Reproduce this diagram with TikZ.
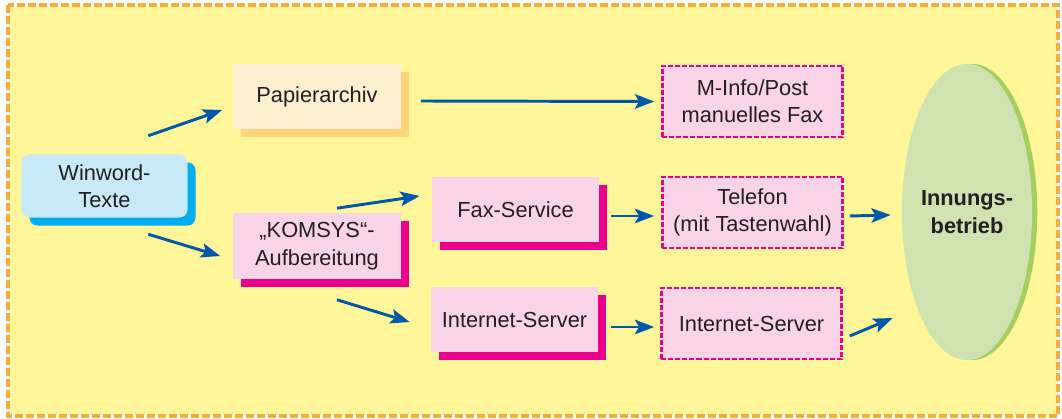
\documentclass[tikz,border=0pt]{standalone}
\usepackage{fontspec}
\setmainfont{Liberation Sans}
\usetikzlibrary{shadows}
\usetikzlibrary{shapes.geometric}
\usetikzlibrary{arrows.meta}
\definecolor{bgyellow}{HTML}{FFF599}
\definecolor{framedash}{HTML}{F9AC3A}
\definecolor{arrowblue}{HTML}{0059A8}
\definecolor{textgray}{HTML}{231F20}
\definecolor{bluefill}{HTML}{C8E9F8}
\definecolor{blueshadow}{HTML}{00AEEF}
\definecolor{creamfill}{HTML}{FFEFD1}
\definecolor{creamshadow}{HTML}{FFD47B}
\definecolor{pinkfill}{HTML}{F9D3E6}
\definecolor{pinkshadow}{HTML}{EC008C}
\definecolor{greenfill}{HTML}{CFE2B0}
\definecolor{greenshadow}{HTML}{A2CF5E}

\begin{document}
\begin{tikzpicture}[x=0.025cm, y=-0.025cm,
  font=\fontsize{15.5}{19.5}\selectfont, text=textgray,
  box/.style={minimum width=4.175cm, minimum height=1.625cm, align=center, inner sep=0pt},
  pinkbox/.style={box, fill=pinkfill,
    drop shadow={fill=pinkshadow, opacity=1, shadow xshift=0.2cm, shadow yshift=-0.2cm}},
  dashbox/.style={box, minimum width=4.5cm, minimum height=1.775cm, fill=pinkfill,
    preaction={draw=white, line width=1.8pt},
    draw=pinkshadow, line width=1.8pt, dash pattern=on 0.125cm off 0.05cm},
  arr/.style={draw=arrowblue, line width=2.1pt,
    -{Stealth[length=4.8mm, width=3.6mm, inset=1mm]}}]

  \useasboundingbox[fill=white] (0,0) rectangle (1062,419);

  % frame
  \fill[bgyellow] (8,5) rectangle (1058,416);
  \draw[white, line width=2.3pt] (8,5) rectangle (1058,416);
  \draw[framedash, line width=2.3pt, dash pattern=on 0.2cm off 0.075cm] (8,5) rectangle (1058,416);

  % nodes
  \node[box, minimum width=4.15cm, minimum height=1.575cm, rounded corners=0.2cm, fill=bluefill,
    drop shadow={fill=blueshadow, opacity=1, shadow xshift=0.2cm, shadow yshift=-0.2cm}]
    (win) at (104.5,186) {Winword-\\Texte};
  \node[box, fill=creamfill,
    drop shadow={fill=creamshadow, opacity=1, shadow xshift=0.2cm, shadow yshift=-0.2cm}]
    (pap) at (317,96.5) {Papierarchiv};
  \node[pinkbox] (kom) at (317,246) {„KOMSYS“-\\Aufbereitung};
  \node[pinkbox] (fax) at (515.5,209.5) {Fax-Service};
  \node[pinkbox] (inet) at (514.5,319.5) {Internet-Server};
  \node[dashbox] (minfo) at (752.5,101.5) {M-Info/Post\\manuelles Fax};
  \node[dashbox] (tel) at (752.5,212.5) {Telefon\\(mit Tastenwahl)};
  \node[dashbox] (inetb) at (751.5,323.5) {Internet-Server};
  \node[ellipse, minimum width=3.2cm, minimum height=7.4cm, inner sep=0pt, fill=greenfill,
    drop shadow={fill=greenshadow, opacity=1, shadow xshift=0.13cm, shadow yshift=0cm},
    align=center, font=\fontsize{15.5}{19.5}\selectfont\bfseries]
    (inn) at (967,212) {Innungs-\\betrieb};

  % arrows
  \draw[arr] ([shift={(-39.5,-18.5)}]win.north east) -- ([shift={(-11,13.5)}]pap.west);
  \draw[arr] ([shift={(-39.5,16.5)}]win.south east) -- ([shift={(-13,10)}]kom.west);
  \draw[arr] ([shift={(20,4.5)}]pap.east) -- ([shift={(-7,0)}]minfo.west);
  \draw[arr] ([shift={(20,-5)}]kom.north) -- ([shift={(-12,-13.5)}]fax.west);
  \draw[arr] ([shift={(20,21)}]kom.south) -- ([shift={(-21,2.5)}]inet.west);
  \draw[arr] ([shift={(12,6.5)}]fax.east) -- ([shift={(-7,3.5)}]tel.west);
  \draw[arr] ([shift={(13,7.5)}]inet.east) -- ([shift={(-6,3.5)}]inetb.west);
  \draw[arr] ([shift={(6,3.5)}]tel.east) -- ([shift={(-11,3)}]inn.west);
  \draw[arr] ([shift={(7,12.5)}]inetb.east) -- ([shift={(-9,106)}]inn.west);
\end{tikzpicture}
\end{document}
